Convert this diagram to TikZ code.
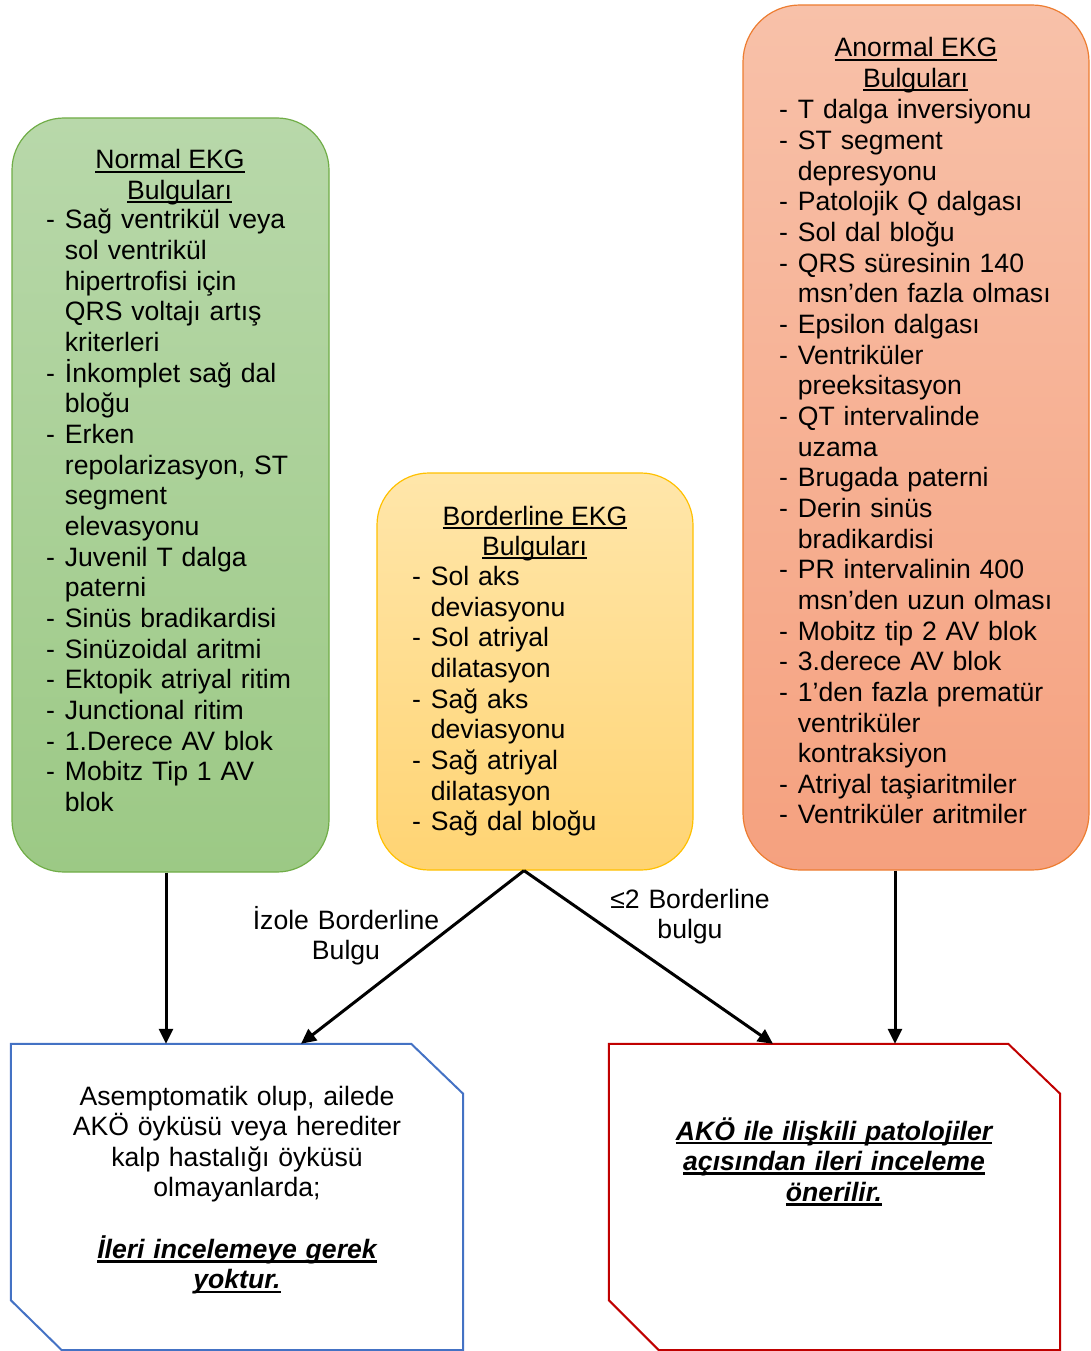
\documentclass[tikz,border=0pt]{standalone}
\usepackage{fontspec}
\setmainfont{Liberation Sans}
\usetikzlibrary{arrows.meta}
\definecolor{gtop}{HTML}{B8D8AA}
\definecolor{gbot}{HTML}{9CC985}
\definecolor{gline}{HTML}{70AD47}
\definecolor{ytop}{HTML}{FFE6AA}
\definecolor{ybot}{HTML}{FFD473}
\definecolor{yline}{HTML}{FFC000}
\definecolor{otop}{HTML}{F8C1A9}
\definecolor{obot}{HTML}{F5A17F}
\definecolor{oline}{HTML}{ED7D31}
\definecolor{bline}{HTML}{4472C4}
\definecolor{rline}{HTML}{C00000}
\newsavebox\ulbox
\newcommand\ulx[1]{\leavevmode\sbox\ulbox{#1}\rlap{\rule[-3.9pt]{\wd\ulbox}{2pt}}\usebox\ulbox}
\newcommand\ulb[1]{\leavevmode\sbox\ulbox{\bfseries\itshape #1}\rlap{\rule[-4.4pt]{\wd\ulbox}{2.6pt}}\usebox\ulbox}
\newcommand\dsh{\makebox[18.7pt][l]{-}}
\newcommand\ind{\leavevmode\hspace*{18.7pt}}
\begin{document}
\begin{tikzpicture}[x=1pt,y=-1pt,
  font=\fontsize{26.6}{30.65}\selectfont,
  rbox/.style={draw, line width=1.2pt, inner sep=0pt},
  frame/.style={inner sep=0pt},
  lst/.style={anchor=base west, align=left, text width=340pt, inner sep=0pt},
  ttl/.style={anchor=base, inner sep=0pt},
  ctext/.style={anchor=base, align=center, text width=430pt, inner sep=0pt},
  arr/.style={line width=3pt, -{Triangle[length=15pt,width=14pt]}}]
\useasboundingbox (0,0) rectangle (1091,1351);

% rounded boxes
\node[rbox, draw=gline, top color=gtop, bottom color=gbot, rounded corners=52pt,
      minimum width=317pt, minimum height=754pt] (green) at (170.5,495) {};
\node[rbox, draw=yline, top color=ytop, bottom color=ybot, rounded corners=52pt,
      minimum width=316pt, minimum height=397pt] (yellow) at (535,671.5) {};
\node[rbox, draw=oline, top color=otop, bottom color=obot, rounded corners=57pt,
      minimum width=346pt, minimum height=865pt] (orange) at (916,437.5) {};

% snipped boxes
\node[frame, minimum width=452pt, minimum height=306pt] (blue) at (237,1197) {};
\node[frame, minimum width=451pt, minimum height=306pt] (red) at (834.5,1197) {};
\draw[bline, line width=2pt] (blue.north west) -- ([xshift=-52pt]blue.north east)
  -- ([yshift=-50pt]blue.north east) -- (blue.south east)
  -- ([xshift=51pt]blue.south west) -- ([yshift=50pt]blue.south west) -- cycle;
\draw[rline, line width=2pt] (red.north west) -- ([xshift=-52pt]red.north east)
  -- ([yshift=-50pt]red.north east) -- (red.south east)
  -- ([xshift=50pt]red.south west) -- ([yshift=50pt]red.south west) -- cycle;

% titles
\node[ttl] (gt1) at (170,169) {\ulx{Normal EKG}};
\node[ttl] (gt2) at (179.5,199.5) {\ulx{Bulguları}};
\node[ttl] (yt1) at (535,525) {\ulx{Borderline EKG}};
\node[ttl] (yt2) at (534.5,555.5) {\ulx{Bulguları}};
\node[ttl] (ot1) at (916,57) {\ulx{Anormal EKG}};
\node[ttl] (ot2) at (915.5,87.5) {\ulx{Bulguları}};

% lists
\node[lst] (glist) at (46,229) {%
\dsh Sağ ventrikül veya\\
\ind sol ventrikül\\
\ind hipertrofisi için\\
\ind QRS voltajı artış\\
\ind kriterleri\\
\dsh İnkomplet sağ dal\\
\ind bloğu\\
\dsh Erken\\
\ind repolarizasyon, ST\\
\ind segment\\
\ind elevasyonu\\
\dsh Juvenil T dalga\\
\ind paterni\\
\dsh Sinüs bradikardisi\\
\dsh Sinüzoidal aritmi\\
\dsh Ektopik atriyal ritim\\
\dsh Junctional ritim\\
\dsh 1.Derece AV blok\\
\dsh Mobitz Tip 1 AV\\
\ind blok};

\node[lst] (ylist) at (412,585.5) {%
\dsh Sol aks\\
\ind deviasyonu\\
\dsh Sol atriyal\\
\ind dilatasyon\\
\dsh Sağ aks\\
\ind deviasyonu\\
\dsh Sağ atriyal\\
\ind dilatasyon\\
\dsh Sağ dal bloğu};

\node[lst] (olist) at (779,119) {%
\dsh T dalga inversiyonu\\
\dsh ST segment\\
\ind depresyonu\\
\dsh Patolojik Q dalgası\\
\dsh Sol dal bloğu\\
\dsh QRS süresinin 140\\
\ind msn’den fazla olması\\
\dsh Epsilon dalgası\\
\dsh Ventriküler\\
\ind preeksitasyon\\
\dsh QT intervalinde\\
\ind uzama\\
\dsh Brugada paterni\\
\dsh Derin sinüs\\
\ind bradikardisi\\
\dsh PR intervalinin 400\\
\ind msn’den uzun olması\\
\dsh Mobitz tip 2 AV blok\\
\dsh 3.derece AV blok\\
\dsh 1’den fazla prematür\\
\ind ventriküler\\
\ind kontraksiyon\\
\dsh Atriyal taşiaritmiler\\
\dsh Ventriküler aritmiler};

% bottom texts
\node[ctext] (btext) at (237,1105) {Asemptomatik olup, ailede\\
AKÖ öyküsü veya herediter\\
kalp hastalığı öyküsü\\
olmayanlarda;\\[30.65pt]
\ulb{İleri incelemeye gerek}\\
\ulb{yoktur.}};
\node[ctext] (rtext) at (834,1140) {\ulb{AKÖ ile ilişkili patolojiler}\\
\ulb{açısından ileri inceleme}\\
\ulb{önerilir.}};

% arrows
\coordinate (gx) at (166,0);
\coordinate (yx) at (524,0);
\coordinate (bx) at (301,0);
\coordinate (rx) at (773,0);
\coordinate (ox) at (895,0);
\draw[arr] (green.south -| gx) -- (blue.north -| gx);
\draw[arr] (yellow.south -| yx) -- (blue.north -| bx);
\draw[arr] (yellow.south -| yx) -- (red.north -| rx);
\draw[arr] (orange.south -| ox) -- (red.north -| ox);

% arrow labels
\node[ctext, text width=260pt] (lab1) at (346,929) {İzole Borderline\\Bulgu};
\node[ctext, text width=260pt] (lab2) at (690,908) {≤2 Borderline\\bulgu};
\end{tikzpicture}
\end{document}
